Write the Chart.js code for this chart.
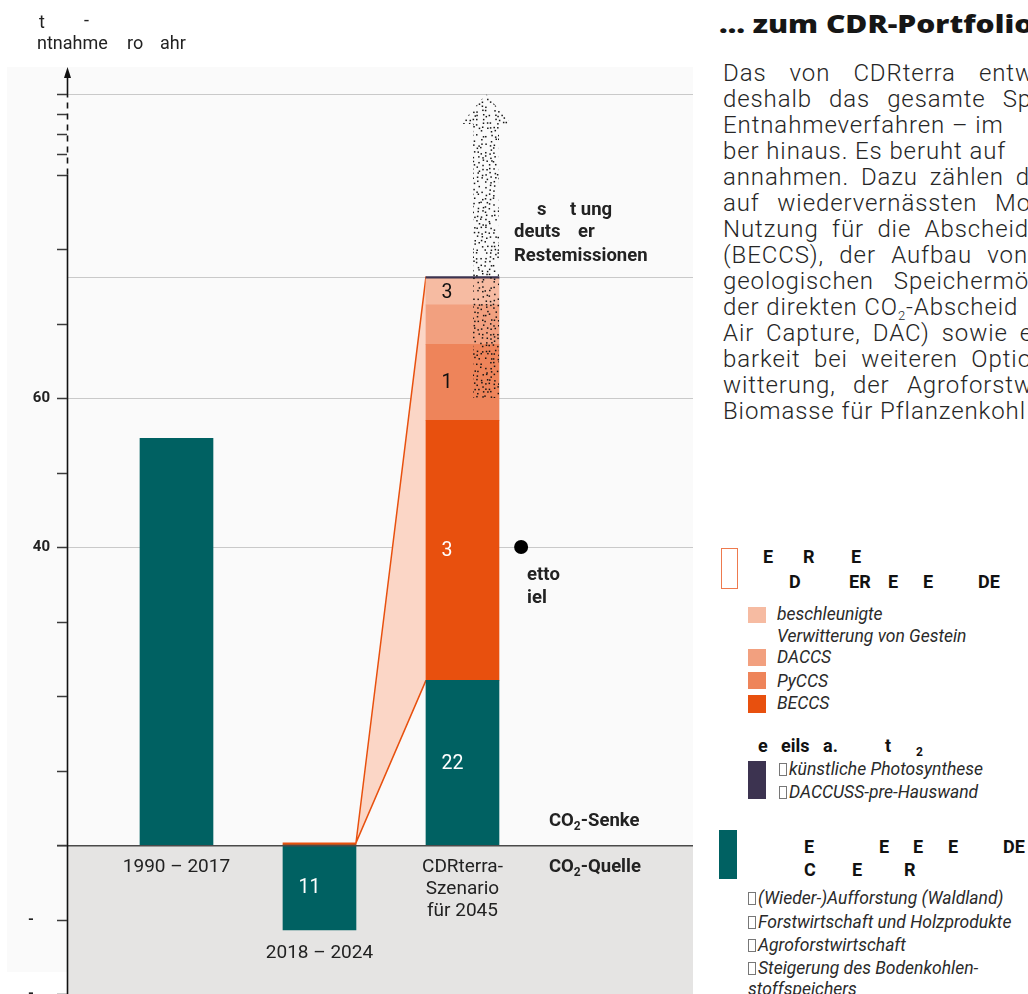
<!DOCTYPE html>
<html lang="de">
<head>
<meta charset="utf-8">
<title>CDR-Portfolio</title>
<script src="https://cdn.jsdelivr.net/npm/chart.js@4.4.1/dist/chart.umd.min.js"></script>
<style>
  html, body { margin: 0; padding: 0; background: #fff; }
  body { position: relative; width: 1028px; height: 994px; overflow: hidden; font-family: Roboto, "Noto Sans", sans-serif; color: #1c1c1c; }
  #chart { position: absolute; left: 0; top: 0; }
  .t { position: absolute; white-space: pre; line-height: 24px; height: 24px; }
  .ax { font-size: 18px; color: #222; }
  .hd { font-size: 18px; font-weight: 700; color: #111; }
  .sub { font-size: 12px; font-weight: 700; color: #111; }
  .it { font-size: 17.5px; font-style: italic; color: #2a2a2a; }
  .tofu { display: inline-block; width: 6px; height: 11px; border: 1px solid #777; margin-right: 2px; vertical-align: -1px; }
  .sw { position: absolute; }
  #title { position: absolute; left: 719px; top: 6px; white-space: nowrap; font-family: "Open Sans", sans-serif; font-weight: 800; font-size: 25px; color: #161616; transform: scaleX(1.2); transform-origin: 0 0; }
  .body { position: absolute; left: 723px; white-space: nowrap; font-weight: 300; font-size: 24px; letter-spacing: 0.9px; line-height: 26px; color: #262626; }
</style>
</head>
<body>
<canvas id="chart" width="700" height="994"></canvas>
<div id="title">… zum CDR-Portfolio</div>
<div id="overlay"></div>
<script>
// values in Mt CO2 per year
const categories = ["1990 – 2017", "2018 – 2024", "CDRterra-\nSzenario\nfür 2045"];
const xPositions = [1, 2, 3];
const naturalSinks = [54.6, -11.4, 22.1];
const beccs = [null, 0.3, 34.9];
const pyccs = [null, null, 10.2];
const daccs = [null, null, 5.3];
const weathering = [null, null, 3.5];
const artificial = [null, null, 0.3];
const barLabels = [
  [null, "11", "22"],
  [null, null, "3"],
  [null, null, "1"],
  [null, null, null],
  [null, null, "3"],
  [null, null, null],
];
const labelColors = ["#fff", "#fff", "#111", "#111", "#111", "#111"];
const yTicks = [-20, -10, 0, 10, 20, 30, 40, 50, 60, 70, 80, 90, 92.75, 95.4, 98.1, 100.8];
const yTickLabels = { "-20": "-", "-10": "-", "40": "40", "60": "60" };
const yGrid = [40, 60, 100.8];
const axisBreak = [90, 100.8];
const restArrow = [60, 100.8];
const nettoZiel = [{ x: 3.41, y: 40 }];

const colors = ["#006162", "#e8500e", "#ee845a", "#f2a07f", "#f6bba2", "#3c3350"];

function toPoints(arr) {
  return xPositions.map((x, i) => ({ x: x, y: arr[i] }));
}

function subText(ctx, parts, x, y) {
  // parts: [text, isSub]
  let cx = x;
  parts.forEach((p) => {
    if (p[1]) {
      ctx.save();
      ctx.font = "bold 12px Roboto";
      ctx.fillText(p[0], cx, y + 6);
      cx += ctx.measureText(p[0]).width;
      ctx.restore();
    } else {
      ctx.fillText(p[0], cx, y);
      cx += ctx.measureText(p[0]).width;
    }
  });
}

const decor = {
  id: "decor",
  beforeDraw(chart) {
    const { ctx, chartArea: a, scales: { y } } = chart;
    ctx.save();
    ctx.fillStyle = "#fafafa";
    ctx.fillRect(7, a.top, a.right - 7, 972 - a.top);
    ctx.fillStyle = "#e5e4e3";
    ctx.fillRect(a.left, y.getPixelForValue(0), a.right - a.left, chart.height);
    ctx.restore();
  },
  beforeDatasetsDraw(chart) {
    const { ctx, chartArea: a, scales: { y } } = chart;
    ctx.save();
    ctx.strokeStyle = "#c9c9c9";
    ctx.lineWidth = 1.2;
    yGrid.forEach((v) => {
      const py = Math.round(y.getPixelForValue(v)) + 0.5;
      ctx.beginPath();
      ctx.moveTo(a.left, py);
      ctx.lineTo(a.right, py);
      ctx.stroke();
    });
    // line at the total of the 2045 scenario
    const top = chart.getDatasetMeta(5).data[2];
    ctx.beginPath();
    ctx.moveTo(a.left, Math.round(top.y) + 0.5);
    ctx.lineTo(a.right, Math.round(top.y) + 0.5);
    ctx.stroke();

    // fan from 2018-2024 to the scenario bar
    const from = chart.getDatasetMeta(1).data[1];
    const teal = chart.getDatasetMeta(0).data[2];
    const fx = from.x + from.width / 2;
    const tx = teal.x - teal.width / 2;
    ctx.beginPath();
    ctx.moveTo(fx, from.y);
    ctx.lineTo(tx, top.y);
    ctx.lineTo(tx, teal.y);
    ctx.closePath();
    ctx.fillStyle = "#fbd6c6";
    ctx.fill();
    ctx.strokeStyle = "#e8500e";
    ctx.lineWidth = 1.5;
    ctx.beginPath();
    ctx.moveTo(tx, top.y);
    ctx.lineTo(fx, from.y);
    ctx.lineTo(tx, teal.y);
    ctx.stroke();
    ctx.restore();
  },
  afterDatasetsDraw(chart) {
    const { ctx, chartArea: a, scales: { y } } = chart;
    ctx.save();

    // zero line
    const y0 = y.getPixelForValue(0);
    ctx.strokeStyle = "#4a4a4a";
    ctx.lineWidth = 1.6;
    ctx.beginPath();
    ctx.moveTo(a.left - 10, y0 + 0.8);
    ctx.lineTo(a.right, y0 + 0.8);
    ctx.stroke();

    // y axis with break
    const ax = a.left + 0.5;
    const yb0 = y.getPixelForValue(axisBreak[0]);
    const yb1 = y.getPixelForValue(axisBreak[1]);
    ctx.strokeStyle = "#111";
    ctx.lineWidth = 1.6;
    ctx.beginPath();
    ctx.moveTo(ax, chart.height);
    ctx.lineTo(ax, yb0);
    ctx.moveTo(ax, yb1);
    ctx.lineTo(ax, a.top + 8);
    ctx.stroke();
    ctx.setLineDash([6, 5]);
    ctx.beginPath();
    ctx.moveTo(ax, yb0);
    ctx.lineTo(ax, yb1);
    ctx.stroke();
    ctx.setLineDash([]);
    ctx.fillStyle = "#111";
    ctx.beginPath();
    ctx.moveTo(ax, a.top);
    ctx.lineTo(ax - 3.5, a.top + 11);
    ctx.lineTo(ax + 3.5, a.top + 11);
    ctx.closePath();
    ctx.fill();

    // ticks and labels
    ctx.strokeStyle = "#3a3a3a";
    ctx.lineWidth = 1.5;
    ctx.font = "bold 15px Roboto";
    ctx.textBaseline = "middle";
    yTicks.forEach((v) => {
      const py = Math.round(y.getPixelForValue(v)) + 0.5;
      ctx.beginPath();
      ctx.moveTo(a.left - 10, py);
      ctx.lineTo(a.left, py);
      ctx.stroke();
      const lab = yTickLabels[String(v)];
      if (lab) {
        ctx.textAlign = lab === "-" ? "center" : "right";
        ctx.fillStyle = "#222";
        ctx.fillText(lab, lab === "-" ? 31 : a.left - 17, py);
      }
    });

    // dotted arrow: estimate of residual emissions
    const bar = chart.getDatasetMeta(0).data[2];
    const right = bar.x + bar.width / 2;
    const cx = right - 13;
    const tip = y.getPixelForValue(restArrow[1]);
    const base = y.getPixelForValue(restArrow[0]);
    ctx.save();
    ctx.beginPath();
    ctx.moveTo(cx, tip);
    ctx.lineTo(cx + 25, tip + 30);
    ctx.lineTo(cx + 13, tip + 30);
    ctx.lineTo(cx + 13, base);
    ctx.lineTo(cx - 13, base);
    ctx.lineTo(cx - 13, tip + 30);
    ctx.lineTo(cx - 25, tip + 30);
    ctx.closePath();
    ctx.clip();
    ctx.fillStyle = "#151515";
    let seed = 11;
    const rnd = () => { seed = (seed * 16807) % 2147483647; return seed / 2147483647; };
    for (let gy = tip - 2; gy < base; gy += 4.2) {
      for (let gx = cx - 27; gx < cx + 27; gx += 4.2) {
        if (rnd() < 0.85) ctx.fillRect(gx + rnd() * 3, gy + rnd() * 3, 1.5, 1.5);
      }
    }
    ctx.restore();

    // labels inside bars
    ctx.textAlign = "left";
    ctx.font = "19.5px Roboto";
    barLabels.forEach((row, di) => {
      const meta = chart.getDatasetMeta(di);
      row.forEach((txt, i) => {
        if (!txt) return;
        const el = meta.data[i];
        ctx.fillStyle = labelColors[di];
        ctx.fillText(txt, el.x - 21, (el.y + el.base) / 2 + 1);
      });
    });

    // category labels
    ctx.textAlign = "center";
    ctx.fillStyle = "#222";
    ctx.font = "19px Roboto";
    const m0 = chart.getDatasetMeta(0).data;
    ctx.fillText(categories[0], m0[0].x, y0 + 22);
    ctx.fillText(categories[1], m0[1].x, m0[1].y + 23);
    categories[2].split("\n").forEach((ln, k) => {
      ctx.fillText(ln, m0[2].x, y0 + 22 + k * 22);
    });

    // annotations
    ctx.textAlign = "left";
    ctx.font = "bold 18.5px Roboto";
    const ra = right + 15;
    ctx.fillText("s", ra + 23, 210);
    ctx.fillText("t ung", ra + 56, 210);
    ctx.fillText("deuts", ra, 232);
    ctx.fillText("er", ra + 64, 232);
    ctx.fillText("Restemissionen", ra, 256);

    const dot = chart.getDatasetMeta(6).data[0];
    ctx.fillText("etto", dot.x + 6, dot.y + 28);
    ctx.fillText("iel", dot.x + 6, dot.y + 51);

    subText(ctx, [["CO", false], ["2", true], ["-Senke", false]], right + 50, y0 - 24);
    subText(ctx, [["CO", false], ["2", true], ["-Quelle", false]], right + 50, y0 + 22);
    ctx.restore();
  },
};

const datasetNames = ["natürliche Senken", "BECCS", "PyCCS", "DACCS", "beschleunigte Verwitterung", "künstliche Photosynthese"];
const series = [naturalSinks, beccs, pyccs, daccs, weathering, artificial];

new Chart(document.getElementById("chart"), {
  type: "bar",
  data: {
    datasets: series.map((s, i) => ({
      label: datasetNames[i],
      data: toPoints(s),
      backgroundColor: colors[i],
      borderWidth: 0,
      stack: "s",
    })).concat([{
      type: "scatter",
      label: "Netto-Ziel",
      data: nettoZiel,
      pointRadius: 7,
      pointBackgroundColor: "#000",
      pointBorderWidth: 0,
      stack: "ziel",
    }]),
  },
  options: {
    responsive: false,
    animation: false,
    layout: { autoPadding: false, padding: { left: 67, right: 7, top: 67, bottom: 0 } },
    datasets: { bar: { barThickness: 73 } },
    plugins: { legend: { display: false }, tooltip: { enabled: false } },
    scales: {
      x: { type: "linear", min: 0.2343, max: 4.6121, offset: false, display: false, stacked: true },
      y: { min: -20, max: 104.43, display: false, stacked: true },
    },
  },
  plugins: [decor],
});

// right column text
const bodyLines = [
  ["Das von CDRterra entw", 1034],
  ["deshalb das gesamte Sp", 1032],
  ["Entnahmeverfahren – im", null],
  ["ber hinaus. Es beruht auf", null],
  ["annahmen. Dazu zählen d", 1030],
  ["auf wiedervernässten Mo", 1031],
  ["Nutzung für die Abscheid", 1029],
  ["(BECCS), der Aufbau von", 1028],
  ["geologischen Speichermö", 1029],
  ["der direkten CO<sub>2</sub>-Abscheid", null],
  ["Air Capture, DAC) sowie e", 1033],
  ["barkeit bei weiteren Optio", 1032],
  ["witterung, der Agroforstw", 1033],
  ["Biomasse für Pflanzenkohl", null],
];

const overlay = document.getElementById("overlay");
bodyLines.forEach((ln, i) => {
  const d = document.createElement("div");
  d.className = "body";
  d.style.top = (60 + i * 26) + "px";
  d.innerHTML = ln[0].replace("<sub>2</sub>", '<span style="font-size:13px;position:relative;top:5px">2</span>');
  overlay.appendChild(d);
  if (ln[1]) {
    const spaces = (ln[0].match(/ /g) || []).length;
    const extra = (ln[1] - 723 - d.getBoundingClientRect().width) / spaces;
    if (extra > 0) d.style.wordSpacing = extra + "px";
  }
});

// [text, left, centerY, class, tofu box]
const texts = [
  ["t", 39, 22, "ax"], ["-", 84, 20, "ax"],
  ["ntnahme", 37, 43, "ax"], ["ro", 127, 43, "ax"], ["ahr", 160, 43, "ax"],
  ["E", 763, 557, "hd"], ["R", 803, 557, "hd"], ["E", 851, 557, "hd"],
  ["D", 789, 582, "hd"], ["ER", 849, 582, "hd"], ["E", 888, 582, "hd"], ["E", 923, 582, "hd"], ["DE", 978, 582, "hd"],
  ["beschleunigte", 777, 614, "it"], ["Verwitterung von Gestein", 777, 636, "it"],
  ["DACCS", 777, 657, "it"], ["PyCCS", 777, 681, "it"], ["BECCS", 777, 703, "it"],
  ["e", 758, 746, "hd"], ["eils", 781, 746, "hd"], ["a.", 823, 746, "hd"], ["t", 885, 746, "hd"], ["2", 916, 752, "sub"],
  ["künstliche Photosynthese", 779, 769, "it", true], ["DACCUSS-pre-Hauswand", 779, 792, "it", true],
  ["E", 804, 847, "hd"], ["E", 879, 847, "hd"], ["E", 913, 847, "hd"], ["E", 948, 847, "hd"], ["DE", 1003, 847, "hd"],
  ["C", 804, 870, "hd"], ["E", 852, 870, "hd"], ["R", 904, 870, "hd"],
  ["(Wieder-)Aufforstung (Waldland)", 748, 898, "it", true],
  ["Forstwirtschaft und Holzprodukte", 748, 922, "it", true],
  ["Agroforstwirtschaft", 748, 945, "it", true],
  ["Steigerung des Bodenkohlen-", 748, 968, "it", true],
  ["stoffspeichers", 748, 989, "it"],
];
texts.forEach((t) => {
  const s = document.createElement("div");
  s.className = "t " + t[3];
  s.style.left = t[1] + "px";
  s.style.top = (t[2] - 12) + "px";
  if (t[4]) {
    const b = document.createElement("span");
    b.className = "tofu";
    s.appendChild(b);
  }
  s.appendChild(document.createTextNode(t[0]));
  overlay.appendChild(s);
});

// legend swatches [left, top, width, height, fill, outline]
const swatches = [
  [721, 548, 17, 41, null, "#ee7a4e"],
  [748, 607, 18, 16, colors[4]],
  [748, 649, 18, 17, colors[3]],
  [748, 672, 18, 17, colors[2]],
  [748, 695, 18, 18, colors[1]],
  [748, 761, 18, 38, colors[5]],
  [719, 830, 18, 49, colors[0]],
];
swatches.forEach((w) => {
  const s = document.createElement("div");
  s.className = "sw";
  s.style.left = w[0] + "px";
  s.style.top = w[1] + "px";
  s.style.width = w[2] + "px";
  s.style.height = w[3] + "px";
  if (w[4]) s.style.background = w[4];
  if (w[5]) { s.style.border = "1.5px solid " + w[5]; s.style.boxSizing = "border-box"; }
  overlay.appendChild(s);
});
</script>
</body>
</html>
